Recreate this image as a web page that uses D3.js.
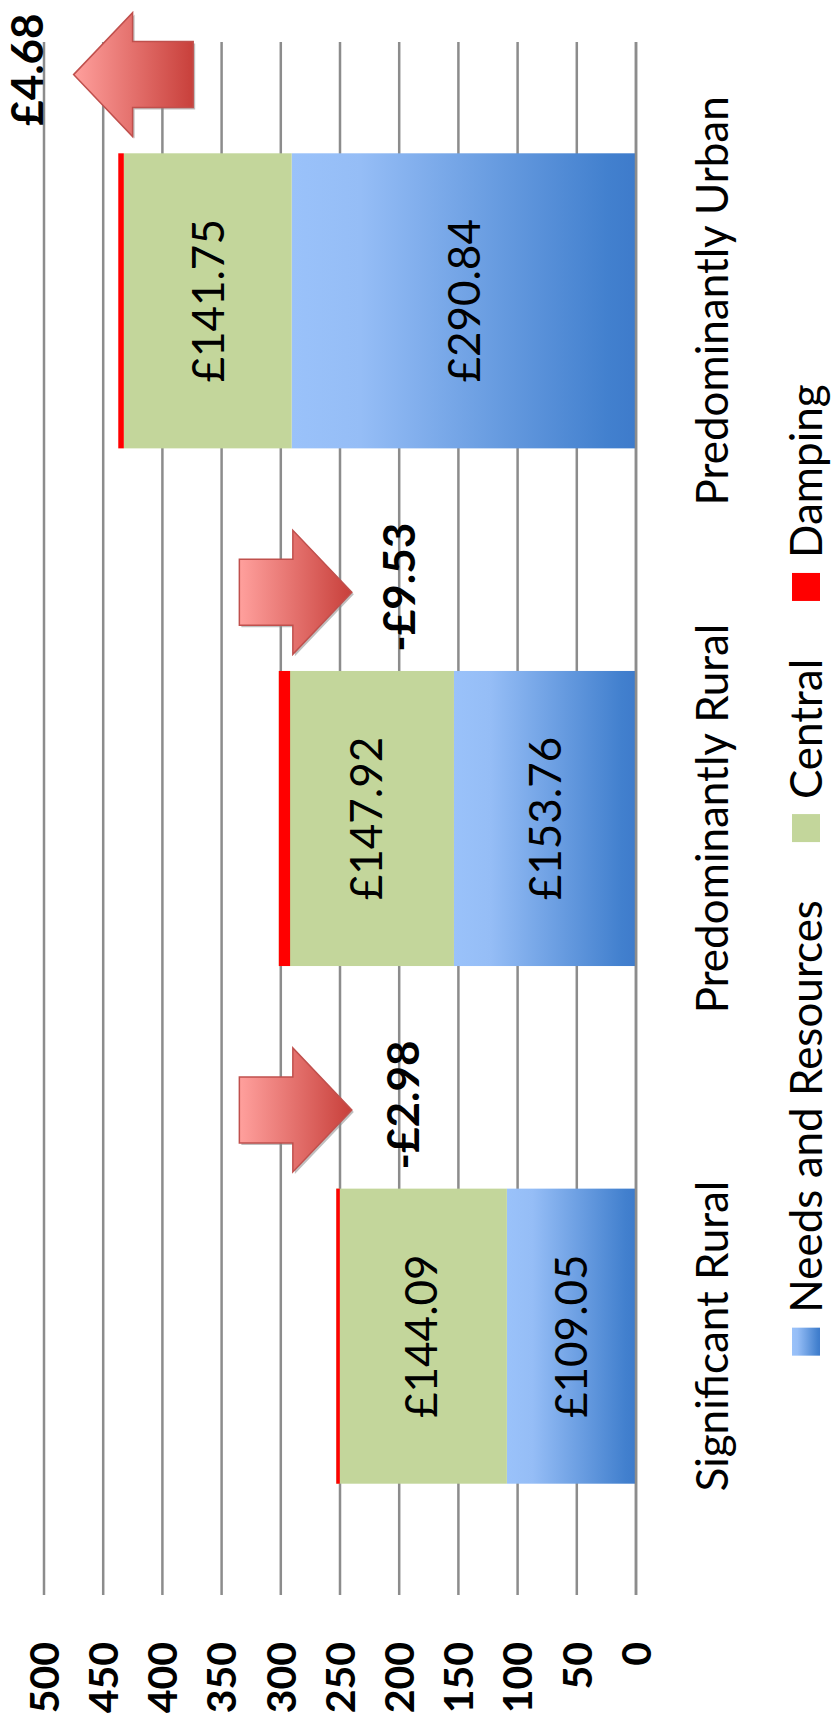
<!DOCTYPE html>
<html>
<head>
<meta charset="utf-8">
<script src="https://cdn.jsdelivr.net/npm/d3@7"></script>
<style>
  body { margin: 0; background: #fff; }
  svg { display: block; }
  text { font-family: Lato, "Open Sans", sans-serif; fill: #000; }
</style>
</head>
<body>
<div id="chart"></div>
<script>
// data
var categories = ["Significant Rural", "Predominantly Rural", "Predominantly Urban"];
var needsValues = [109.05, 153.76, 290.84];
var centralValues = [144.09, 147.92, 141.75];
var dampingValues = [-2.98, -9.53, 4.68];
var seriesNames = ["Needs and Resources", "Central", "Damping"];
var tickValues = [0, 50, 100, 150, 200, 250, 300, 350, 400, 450, 500];
// damping arrows, in value units (tail -> tip) and where the label sits
var arrowTails = [335, 335, 374];
var arrowTips = [240, 240, 475];
var labelValues = [197, 200, 514];

var width = 833, height = 1726;

var svg = d3.select("#chart").append("svg")
    .attr("width", width)
    .attr("height", height);

var defs = svg.append("defs");

var blueGrad = defs.append("linearGradient")
    .attr("id", "needsGrad")
    .attr("x1", 0).attr("y1", 0).attr("x2", 0).attr("y2", 1);
blueGrad.append("stop").attr("offset", 0).attr("stop-color", "#9ac2fa");
blueGrad.append("stop").attr("offset", 0.2).attr("stop-color", "#95bdf6");
blueGrad.append("stop").attr("offset", 0.92).attr("stop-color", "#4280ce");
blueGrad.append("stop").attr("offset", 1).attr("stop-color", "#3e7bcb");

var arrowGrad = defs.append("linearGradient")
    .attr("id", "arrowGrad")
    .attr("x1", 0).attr("y1", 0).attr("x2", 0).attr("y2", 1);
arrowGrad.append("stop").attr("offset", 0).attr("stop-color", "#ffa09d");
arrowGrad.append("stop").attr("offset", 1).attr("stop-color", "#c8403b");

// the chart is drawn upright and then turned a quarter turn to the left
var g = svg.append("g")
    .attr("transform", "translate(0," + height + ") rotate(-90)");

var x = d3.scaleBand()
    .domain(categories)
    .range([131, 1684])
    .paddingInner(0.43)
    .paddingOuter(0.215);

var y = d3.scaleLinear()
    .domain([0, 500])
    .range([636, 44]);

var bw = x.bandwidth();

// grid lines
g.selectAll(".grid")
    .data(tickValues)
    .enter()
    .append("line")
    .attr("x1", 131)
    .attr("x2", 1684)
    .attr("y1", d => y(d))
    .attr("y2", d => y(d))
    .attr("stroke", "#8c8c8c")
    .attr("stroke-width", 2.5);

// tick labels
g.selectAll(".tick-label")
    .data(tickValues)
    .enter()
    .append("text")
    .attr("x", 84)
    .attr("y", d => y(d))
    .attr("dy", "0.36em")
    .attr("text-anchor", "end")
    .style("font-size", "41px")
    .style("font-weight", "bold")
    .text(d => d);

// stacked bars
var rows = categories.map((c, i) => ({
    cat: c,
    needs: needsValues[i],
    central: centralValues[i],
    damping: dampingValues[i],
    total: needsValues[i] + centralValues[i]
}));

g.selectAll(".needs")
    .data(rows)
    .enter()
    .append("rect")
    .attr("x", d => x(d.cat))
    .attr("width", bw)
    .attr("y", d => y(d.needs))
    .attr("height", d => y(0) - y(d.needs))
    .attr("fill", "url(#needsGrad)");

g.selectAll(".central")
    .data(rows)
    .enter()
    .append("rect")
    .attr("x", d => x(d.cat))
    .attr("width", bw)
    .attr("y", d => y(d.total))
    .attr("height", d => y(d.needs) - y(d.total))
    .attr("fill", "#c3d69b");

g.selectAll(".damping")
    .data(rows)
    .enter()
    .append("rect")
    .attr("x", d => x(d.cat))
    .attr("width", bw)
    .attr("y", d => y(Math.max(d.total, d.total + d.damping)))
    .attr("height", d => Math.abs(y(d.total) - y(d.total + d.damping)))
    .attr("fill", "#ff0000");

// zero line on top
g.append("line")
    .attr("x1", 131).attr("x2", 1684)
    .attr("y1", y(0)).attr("y2", y(0))
    .attr("stroke", "#8c8c8c")
    .attr("stroke-width", 2.5);

// value labels inside the segments
g.selectAll(".needs-label")
    .data(rows)
    .enter()
    .append("text")
    .attr("x", d => x(d.cat) + bw / 2)
    .attr("y", d => y(d.needs / 2))
    .attr("dy", "0.36em")
    .attr("text-anchor", "middle")
    .style("font-size", "44px")
    .text(d => "£" + d.needs.toFixed(2));

g.selectAll(".central-label")
    .data(rows)
    .enter()
    .append("text")
    .attr("x", d => x(d.cat) + bw / 2)
    .attr("y", d => y(d.needs + d.central / 2))
    .attr("dy", "0.36em")
    .attr("text-anchor", "middle")
    .style("font-size", "44px")
    .text(d => "£" + d.central.toFixed(2));

// category labels
g.selectAll(".cat-label")
    .data(categories)
    .enter()
    .append("text")
    .attr("x", d => x(d) + bw / 2)
    .attr("y", 728)
    .attr("text-anchor", "middle")
    .style("font-size", "44px")
    .text(d => d);

// damping arrows
function arrowPath(cx, tail, tip) {
    var ya = y(tail), yb = y(tip);
    var dir = yb > ya ? 1 : -1;
    var yh = yb - dir * 59;
    var bh = 33, hh = 62;
    return "M" + (cx - bh) + "," + ya +
        "L" + (cx - bh) + "," + yh +
        "L" + (cx - hh) + "," + yh +
        "L" + cx + "," + yb +
        "L" + (cx + hh) + "," + yh +
        "L" + (cx + bh) + "," + yh +
        "L" + (cx + bh) + "," + ya + "Z";
}

var arrowX = c => x(c) + bw + x.step() * 0.152;

g.selectAll(".arrow-shadow")
    .data(categories)
    .enter()
    .append("path")
    .attr("d", (c, i) => arrowPath(arrowX(c), arrowTails[i], arrowTips[i]))
    .attr("transform", "translate(-2,2)")
    .attr("fill", "#8a8a8a")
    .attr("opacity", 0.55);

g.selectAll(".arrow")
    .data(categories)
    .enter()
    .append("path")
    .attr("d", (c, i) => arrowPath(arrowX(c), arrowTails[i], arrowTips[i]))
    .attr("fill", "url(#arrowGrad)")
    .attr("stroke", "#c0504d")
    .attr("stroke-width", 1.5);

g.selectAll(".damp-label")
    .data(categories)
    .enter()
    .append("text")
    .attr("x", c => arrowX(c) + 5)
    .attr("y", (c, i) => y(labelValues[i]))
    .attr("dy", "0.36em")
    .attr("text-anchor", "middle")
    .style("font-size", "44px")
    .style("font-weight", "bold")
    .text((c, i) => {
        var d = dampingValues[i];
        return (d < 0 ? "-£" : "£") + Math.abs(d).toFixed(2);
    });

// legend
var legendFills = ["url(#needsGrad)", "#c3d69b", "#ff0000"];
var legend = g.append("g");
var pos = 0;
seriesNames.forEach(function(name, i) {
    var item = legend.append("g");
    item.append("rect")
        .attr("x", 0)
        .attr("y", 792)
        .attr("width", 28)
        .attr("height", 28)
        .attr("fill", legendFills[i]);
    var t = item.append("text")
        .attr("x", 43)
        .attr("y", 822)
        .style("font-size", "44px")
        .text(name);
    item.attr("transform", "translate(" + pos + ",0)");
    pos += 43 + t.node().getComputedTextLength() + 58;
});
pos -= 58;
legend.attr("transform", "translate(" + (856 - pos / 2) + ",0)");
</script>
</body>
</html>
